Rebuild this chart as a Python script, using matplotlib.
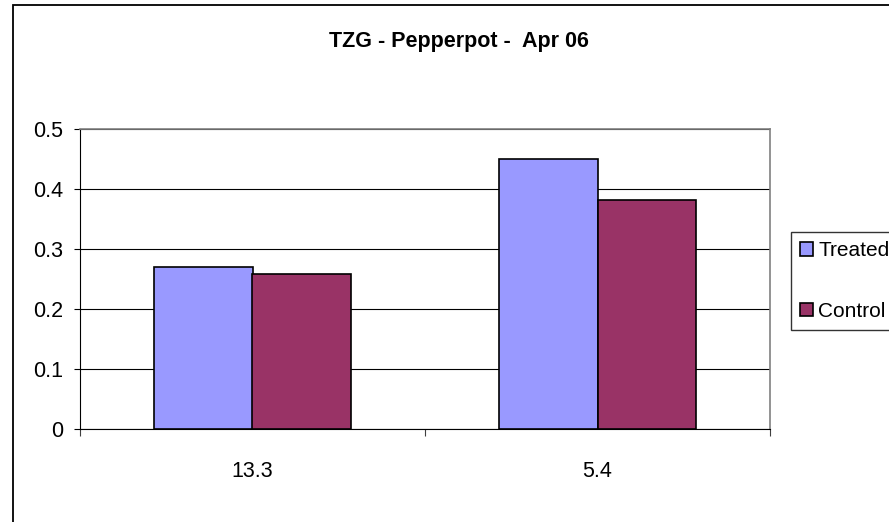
import matplotlib
matplotlib.use('Agg')
import matplotlib.pyplot as plt
import numpy as np
from matplotlib.patches import Rectangle

# data
categories = ['13.3', '5.4']
treated = [0.27, 0.45]
control = [0.258, 0.382]
series_names = ['Treated', 'Control']
y_ticks = [0, 0.1, 0.2, 0.3, 0.4, 0.5]
title = 'TZG - Pepperpot -  Apr 06'

plt.rcParams['font.family'] = ['Liberation Sans', 'DejaVu Sans']

W, H = 889, 522
fig = plt.figure(figsize=(W / 100, H / 100), dpi=100)

# outer chart-area frame (right and bottom edges fall outside the image)
fig.patches.append(Rectangle((12.5 / W, -0.1), 1.2, 1 - 5 / H + 0.1,
                             transform=fig.transFigure, fill=False,
                             edgecolor='black', linewidth=1.3))

ax = fig.add_axes([80 / W, 1 - 429 / H, 690 / W, 300 / H])

# Excel style: gap width 150% -> each bar = 1 / 3.5 of a category
bw = 1 / 3.5
x = np.arange(len(categories)) + 0.5
ax.bar(x - bw / 2, treated, bw, color='#9999FF', edgecolor='black',
       linewidth=1.2, label=series_names[0], zorder=3)
ax.bar(x + bw / 2, control, bw, color='#993366', edgecolor='black',
       linewidth=1.2, label=series_names[1], zorder=3)

ax.set_xlim(0, len(categories))
ax.set_ylim(0, 0.5)
ax.set_yticks(y_ticks)
ax.set_yticklabels([f'{v:g}' for v in y_ticks])
ax.yaxis.grid(True, color='black', linewidth=0.8, zorder=0)

# category boundary ticks, labels in the middle of each category
ax.set_xticks(np.arange(len(categories) + 1))
ax.set_xticklabels([])
ax.set_xticks(x, minor=True)
ax.set_xticklabels(categories, minor=True)
ax.tick_params(axis='x', which='major', direction='out', length=5,
               width=0.8, color='#404040')
ax.tick_params(axis='x', which='minor', length=0, pad=23, labelsize=15.5)
ax.tick_params(axis='y', direction='out', length=4.3, width=0.8,
               pad=8, labelsize=15.5)

for side in ('top', 'right'):
    ax.spines[side].set_color('#808080')
    ax.spines[side].set_linewidth(1.2)
ax.spines['left'].set_color('black')
ax.spines['bottom'].set_color('black')

fig.text(459 / W, 1 - 41 / H, title, ha='center', va='center',
         fontsize=15.5, fontweight='bold')

leg = fig.legend(loc='upper left', bbox_to_anchor=(791 / W, 1 - 232 / H),
                 fontsize=15, frameon=True, fancybox=False,
                 handlelength=0.6, handleheight=0.6, handletextpad=0.25,
                 labelspacing=2.0, borderpad=0.45, borderaxespad=0)
leg.get_frame().set_edgecolor('black')
leg.get_frame().set_linewidth(1.0)

fig.savefig('out.png', dpi=100)
